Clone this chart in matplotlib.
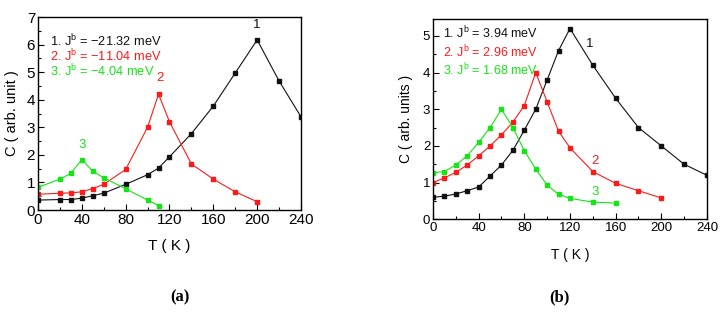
import matplotlib.pyplot as plt
from matplotlib.ticker import MultipleLocator

# specific heat vs temperature, two panels

# panel (a)
t_a1 = [0, 20, 30, 40, 50, 60, 80, 100, 110, 120, 140, 160, 180, 200, 220, 240]
c_a1 = [0.36, 0.38, 0.38, 0.43, 0.52, 0.61, 0.93, 1.28, 1.52, 1.93, 2.77, 3.77, 4.97, 6.17, 4.68, 3.38]
t_a2 = [0, 20, 30, 40, 50, 60, 80, 100, 110, 120, 140, 160, 180, 200]
c_a2 = [0.57, 0.61, 0.62, 0.66, 0.78, 0.93, 1.47, 3.0, 4.2, 3.2, 1.67, 1.12, 0.66, 0.3]
t_a3 = [0, 20, 30, 40, 50, 60, 80, 100, 110]
c_a3 = [0.82, 1.12, 1.33, 1.83, 1.41, 1.17, 0.77, 0.36, 0.16]
labels_a = ['1. J$^{\\mathregular{b}}$ = \u221221.32 meV',
            '2. J$^{\\mathregular{b}}$ = \u221211.04 meV',
            '3. J$^{\\mathregular{b}}$ = \u22124.04 meV']

# panel (b)
t_b1 = [0, 10, 20, 30, 40, 50, 60, 70, 80, 90, 100, 110, 120, 140, 160, 180, 200, 220, 240]
c_b1 = [0.6, 0.63, 0.69, 0.78, 0.88, 1.18, 1.48, 1.88, 2.43, 3.0, 3.8, 4.6, 5.2, 4.2, 3.3, 2.5, 2.0, 1.5, 1.2]
t_b2 = [0, 10, 20, 30, 40, 50, 60, 70, 80, 90, 100, 110, 120, 140, 160, 180, 200]
c_b2 = [1.0, 1.13, 1.28, 1.48, 1.73, 2.0, 2.3, 2.65, 3.1, 4.0, 3.2, 2.4, 1.95, 1.3, 0.98, 0.78, 0.58]
t_b3 = [0, 10, 20, 30, 40, 50, 60, 70, 80, 90, 100, 110, 120, 140, 160]
c_b3 = [1.27, 1.3, 1.48, 1.73, 2.1, 2.5, 3.0, 2.5, 1.87, 1.37, 0.93, 0.68, 0.57, 0.47, 0.44]
labels_b = ['1. J$^{\\mathregular{b}}$ = 3.94 meV',
            '2. J$^{\\mathregular{b}}$ = 2.96 meV',
            '3. J$^{\\mathregular{b}}$ = 1.68 meV']

colors = ['#111111', '#ff1a1a', '#14e614']

plt.rcParams.update({'font.family': 'Liberation Sans', 'mathtext.fontset': 'custom',
                     'mathtext.rm': 'Liberation Sans', 'axes.linewidth': 1.0})

fig = plt.figure(figsize=(7.26, 3.15), dpi=100)

ax = fig.add_axes([0.0523, 0.3333, 0.3623, 0.6127])
ax2 = fig.add_axes([0.5964, 0.3038, 0.3774, 0.6359])


def style(a, ymax, fs):
    a.set_xlim(0, 240)
    a.set_ylim(0, ymax)
    a.xaxis.set_major_locator(MultipleLocator(40))
    a.xaxis.set_minor_locator(MultipleLocator(20))
    a.yaxis.set_major_locator(MultipleLocator(1))
    a.yaxis.set_minor_locator(MultipleLocator(0.5))
    a.tick_params(which='both', direction='in', labelsize=fs, pad=2)
    a.tick_params(which='major', length=4, width=0.8)
    a.tick_params(which='minor', length=2.5, width=0.8)


series_a = [(t_a1, c_a1), (t_a2, c_a2), (t_a3, c_a3)]
for i, (t, c) in enumerate(series_a):
    ax.plot(t, c, '-', marker='s', color=colors[i], lw=0.8, ms=3.4)
style(ax, 7, 11)
ax.set_xlabel('T ( K )', fontsize=11)
ax.set_ylabel('C ( arb. unit )', fontsize=10.5)
ax.xaxis.set_label_coords(0.5, -0.15)
ax.yaxis.set_label_coords(-0.072, 0.5)
for i, y in enumerate([0.878, 0.798, 0.718]):
    ax.text(0.045, y, labels_a[i], transform=ax.transAxes, color=colors[i],
            fontsize=9.2, va='center', ha='left')
ax.text(199.5, 6.7, '1', color=colors[0], fontsize=9.5, ha='center', va='center')
ax.text(111, 4.77, '2', color=colors[1], fontsize=9.5, ha='center', va='center')
ax.text(40, 2.35, '3', color=colors[2], fontsize=9.5, ha='center', va='center')

series_b = [(t_b1, c_b1), (t_b2, c_b2), (t_b3, c_b3)]
for i, (t, c) in enumerate(series_b):
    ax2.plot(t, c, '-', marker='s', color=colors[i], lw=0.8, ms=3.4)
style(ax2, 5.46, 9.5)
ax2.set_xlabel('T ( K )', fontsize=10)
ax2.set_ylabel('C ( arb. units )', fontsize=10)
ax2.xaxis.set_label_coords(0.5, -0.143)
ax2.yaxis.set_label_coords(-0.073, 0.5)
for i, y in enumerate([0.930, 0.834, 0.744]):
    ax2.text(0.035, y, labels_b[i], transform=ax2.transAxes, color=colors[i],
             fontsize=9, va='center', ha='left')
ax2.text(137.5, 4.77, '1', color=colors[0], fontsize=9.5, ha='center', va='center')
ax2.text(142, 1.59, '2', color=colors[1], fontsize=9.5, ha='center', va='center')
ax2.text(142, 0.75, '3', color=colors[2], fontsize=9.5, ha='center', va='center')

fig.text(0.248, 0.057, '(a)', fontsize=12, fontweight='bold', family='Liberation Serif',
         ha='center', va='center')
fig.text(0.771, 0.057, '(b)', fontsize=12, fontweight='bold', family='Liberation Serif',
         ha='center', va='center')

plt.savefig('out.png', dpi=100)
plt.close()
